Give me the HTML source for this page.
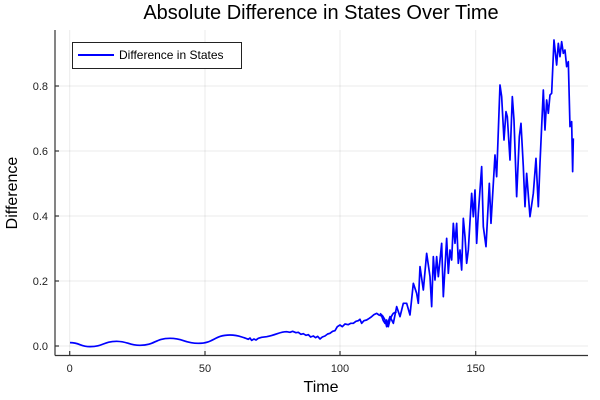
<!DOCTYPE html>
<html><head><style>body{margin:0;background:#fff}svg{display:block;font-family:"Liberation Sans","DejaVu Sans",sans-serif}</style></head><body>
<svg width="600" height="400" xmlns="http://www.w3.org/2000/svg">
<rect width="600" height="400" fill="#fff"/>
<g stroke="#000" stroke-opacity="0.08" stroke-width="1">
<line x1="69.7" y1="30" x2="69.7" y2="355"/><line x1="205" y1="30" x2="205" y2="355"/><line x1="340" y1="30" x2="340" y2="355"/><line x1="475.7" y1="30" x2="475.7" y2="355"/>
<line x1="55" y1="346" x2="588" y2="346"/><line x1="55" y1="281" x2="588" y2="281"/><line x1="55" y1="216" x2="588" y2="216"/><line x1="55" y1="151" x2="588" y2="151"/><line x1="55" y1="86" x2="588" y2="86"/>
</g>
<g stroke="#333" stroke-width="1.2" fill="none">
<line x1="55" y1="30" x2="55" y2="355.5"/><line x1="55" y1="355.5" x2="588" y2="355.5"/>
<line x1="69.7" y1="355" x2="69.7" y2="351"/><line x1="205" y1="355" x2="205" y2="351"/><line x1="340" y1="355" x2="340" y2="351"/><line x1="475.7" y1="355" x2="475.7" y2="351"/>
<line x1="55" y1="346" x2="59" y2="346"/><line x1="55" y1="281" x2="59" y2="281"/><line x1="55" y1="216" x2="59" y2="216"/><line x1="55" y1="151" x2="59" y2="151"/><line x1="55" y1="86" x2="59" y2="86"/>
</g>
<g font-size="11" fill="#222" text-anchor="middle">
<text x="69.7" y="372">0</text><text x="205" y="372">50</text><text x="340" y="372">100</text><text x="475.7" y="372">150</text>
</g>
<g font-size="11" fill="#222" text-anchor="end">
<text x="48" y="350">0.0</text><text x="48" y="285">0.2</text><text x="48" y="220">0.4</text><text x="48" y="155">0.6</text><text x="48" y="90">0.8</text>
</g>
<text x="321" y="19" font-size="20" text-anchor="middle" fill="#000">Absolute Difference in States Over Time</text>
<text x="321" y="392" font-size="16" text-anchor="middle" fill="#000">Time</text>
<text transform="translate(17,193) rotate(-90)" font-size="16" text-anchor="middle" fill="#000">Difference</text>
<g fill="none" stroke="#0000ff" stroke-width="1.7" stroke-linejoin="round">
<path vector-effect="non-scaling-stroke" transform="translate(0,300) scale(0.3333)" d="M210,128 C240,128 240,140 270,140 C310,140 310,124 350,124 C385,124 385,136 420,136 C465,136 465,115 510,115 C552,115 552,130 595,130 C642,130 642,105 690,105 C715,105 720,110 735,114 L745,118 750,114 755,121 762,117 768,120 775,115 785,112 800,110 C830,104 840,95 860,95 L870,97 878,94 888,98 895,97 903,103 910,101 918,106 925,104 932,111 940,108 947,113 953,109 960,117 967,111 975,108 983,102 990,100 998,94 1005,92 1012,80 1020,75 1027,80 1035,72 1045,74 1052,70 1060,70 1068,64 1075,62 1080,58 1085,70 1092,62 1100,60 1108,55 1115,50 1122,44 1130,40 1137,45 1145,48 1150,62 1155,70 1160,60 1165,80 1170,60 1175,48 1180,40 1190,35"/>
<polyline vector-effect="non-scaling-stroke" transform="translate(380,30) scale(0.3333)" points="0,850 8,858 15,870 20,890 30,860 40,880 50,830 60,860 70,820 80,820 90,855 100,760 110,790 115,820 120,710 130,780 140,670 150,740 155,830 160,680 165,750 170,680 175,740 185,640 190,800 200,625 205,730 210,660 215,690 220,580 225,640 230,580 235,700 240,660 245,720 250,565 255,620 260,700 265,660 275,490 280,560 285,480 290,640 295,550 305,410 310,590 318,650 328,460 333,580 345,375 350,440 360,165 365,200 372,330 378,245 382,260 390,390 397,200 402,270 410,500 418,320 423,280 430,410 435,530 440,430 450,560 460,490 468,385 475,530 480,400 490,180 495,300 500,210 505,250 510,195 515,190 522,30 530,105 535,40 540,80 545,35 550,70 555,60 560,110 565,95 570,290 575,275 578,425 580,325"/>
</g>
<rect x="72.5" y="42.5" width="169" height="26" fill="#fff" stroke="#222" stroke-width="1"/>
<line x1="78" y1="55" x2="114" y2="55" stroke="#0000ff" stroke-width="2"/>
<text x="119" y="59" font-size="12" fill="#000">Difference in States</text>
</svg>
</body></html>
